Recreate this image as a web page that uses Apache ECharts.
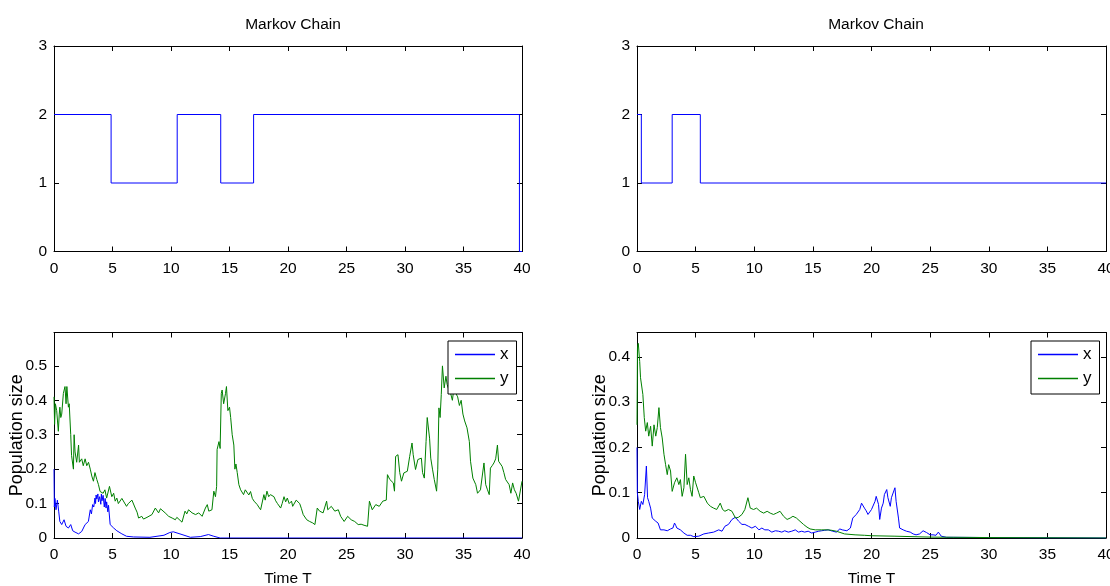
<!DOCTYPE html>
<html>
<head>
<meta charset="utf-8">
<script src="https://cdn.jsdelivr.net/npm/echarts@6/dist/echarts.min.js"></script>
<style>html,body{margin:0;padding:0;background:#fff;}#chart{width:1110px;height:586px;}</style>
</head>
<body>
<div id="chart"></div>
<script>
// ---------- DATA ----------
const xTicks = [0, 5, 10, 15, 20, 25, 30, 35, 40];
const chainTitle = 'Markov Chain';
const yName = 'Population size';
const xName = 'Time T';
const seriesNames = ['x', 'y'];

// Markov chain switching times and states
const chainL_t = [0, 4.88, 10.53, 14.25, 17.06, 39.78, 40];
const chainL_s = [2, 1, 2, 1, 2, 0, 0];
const chainR_t = [0, 0.37, 3.0, 5.4, 40];
const chainR_s = [2, 1, 2, 1, 1];

// Population paths [time, value]
const popL_x = [[0,0.20],[0.03,0.09],[0.08,0.115],[0.17,0.082],[0.29,0.11],[0.4,0.078],[0.5,0.048],[0.66,0.039],[0.86,0.053],[1.03,0.034],[1.23,0.029],[1.43,0.039],[1.6,0.021],[1.8,0.017],[2.1,0.012],[2.37,0.019],[2.66,0.039],[2.8,0.035],[2.94,0.048],[3.1,0.082],[3.2,0.07],[3.3,0.097],[3.4,0.09],[3.5,0.116],[3.55,0.10],[3.6,0.125],[3.66,0.113],[3.75,0.128],[3.8,0.105],[3.9,0.12],[4.0,0.098],[4.05,0.128],[4.1,0.108],[4.2,0.124],[4.3,0.09],[4.37,0.115],[4.45,0.087],[4.5,0.105],[4.6,0.076],[4.66,0.095],[4.8,0.039],[5.1,0.029],[5.37,0.021],[5.8,0.012],[6.2,0.005],[6.8,0.003],[8.2,0.002],[9.4,0.008],[9.9,0.016],[10.2,0.018],[10.37,0.015],[10.94,0.010],[11.66,0.002],[12.5,0.004],[13.2,0.010],[13.66,0.005],[14.2,0],[40,0]];
const popL_y = [[0,0.41],[0.05,0.33],[0.12,0.39],[0.23,0.37],[0.3,0.34],[0.37,0.31],[0.45,0.36],[0.5,0.38],[0.58,0.35],[0.66,0.36],[0.8,0.42],[0.94,0.44],[1.03,0.39],[1.1,0.44],[1.23,0.38],[1.3,0.39],[1.43,0.30],[1.5,0.24],[1.66,0.20],[1.72,0.30],[1.8,0.25],[1.94,0.22],[2.1,0.27],[2.17,0.22],[2.37,0.23],[2.5,0.21],[2.66,0.23],[2.8,0.21],[2.95,0.22],[3.1,0.20],[3.23,0.18],[3.37,0.165],[3.5,0.19],[3.66,0.17],[3.8,0.155],[3.94,0.135],[4.2,0.13],[4.35,0.14],[4.5,0.116],[4.74,0.15],[4.94,0.12],[5.1,0.13],[5.23,0.107],[5.37,0.116],[5.5,0.10],[5.66,0.097],[5.8,0.115],[5.94,0.111],[6.2,0.092],[6.35,0.10],[6.5,0.10],[6.66,0.11],[6.94,0.087],[7.1,0.075],[7.23,0.058],[7.5,0.063],[7.65,0.055],[7.8,0.05],[7.95,0.06],[8.1,0.058],[8.37,0.068],[8.66,0.087],[8.8,0.092],[8.94,0.073],[9.1,0.085],[9.23,0.082],[9.5,0.073],[9.65,0.07],[9.8,0.063],[10.1,0.058],[10.37,0.053],[10.5,0.06],[10.66,0.058],[10.94,0.046],[11.2,0.078],[11.35,0.07],[11.5,0.082],[11.8,0.073],[12.1,0.068],[12.37,0.073],[12.66,0.063],[12.94,0.087],[13.1,0.097],[13.23,0.078],[13.5,0.082],[13.66,0.136],[13.8,0.12],[13.9,0.15],[13.94,0.257],[14.1,0.28],[14.2,0.26],[14.3,0.42],[14.37,0.43],[14.5,0.39],[14.66,0.42],[14.74,0.44],[14.86,0.37],[15.0,0.38],[15.1,0.35],[15.23,0.30],[15.37,0.27],[15.46,0.20],[15.55,0.215],[15.66,0.19],[15.8,0.155],[15.95,0.14],[16.1,0.135],[16.2,0.126],[16.35,0.14],[16.5,0.145],[16.65,0.125],[16.8,0.135],[16.95,0.115],[17.1,0.107],[17.37,0.097],[17.5,0.09],[17.66,0.082],[17.94,0.126],[18.05,0.11],[18.2,0.136],[18.35,0.12],[18.5,0.126],[18.65,0.13],[18.8,0.12],[18.95,0.108],[19.1,0.10],[19.25,0.095],[19.37,0.087],[19.5,0.10],[19.66,0.12],[19.8,0.105],[19.94,0.116],[20.1,0.10],[20.3,0.107],[20.4,0.092],[20.7,0.11],[21.0,0.10],[21.15,0.085],[21.3,0.068],[21.6,0.053],[21.85,0.048],[22.1,0.044],[22.3,0.039],[22.5,0.087],[22.7,0.078],[23.0,0.073],[23.15,0.09],[23.3,0.107],[23.4,0.082],[23.7,0.092],[24.0,0.078],[24.3,0.082],[24.5,0.063],[24.8,0.048],[25.1,0.063],[25.4,0.053],[25.7,0.048],[26.0,0.039],[26.25,0.04],[26.5,0.037],[26.8,0.034],[26.96,0.107],[27.2,0.082],[27.5,0.097],[27.8,0.092],[28.1,0.107],[28.4,0.11],[28.5,0.184],[28.7,0.17],[29.0,0.16],[29.1,0.136],[29.2,0.237],[29.4,0.242],[29.55,0.19],[29.7,0.165],[29.9,0.189],[30.2,0.194],[30.4,0.237],[30.6,0.276],[30.7,0.242],[30.9,0.199],[31.1,0.228],[31.4,0.232],[31.5,0.19],[31.65,0.174],[31.8,0.28],[31.9,0.35],[32.1,0.29],[32.2,0.232],[32.35,0.2],[32.5,0.17],[32.7,0.136],[32.8,0.2],[32.9,0.378],[33.0,0.35],[33.1,0.417],[33.2,0.50],[33.35,0.436],[33.5,0.47],[33.6,0.446],[33.75,0.43],[33.9,0.42],[34.05,0.40],[34.2,0.44],[34.35,0.42],[34.5,0.41],[34.65,0.385],[34.8,0.40],[34.95,0.36],[35.1,0.34],[35.3,0.32],[35.5,0.28],[35.6,0.223],[35.8,0.174],[36.05,0.155],[36.2,0.13],[36.3,0.13],[36.45,0.14],[36.6,0.136],[36.75,0.218],[36.9,0.155],[37.05,0.14],[37.2,0.126],[37.3,0.203],[37.45,0.21],[37.6,0.218],[37.75,0.23],[37.9,0.27],[38.0,0.223],[38.15,0.22],[38.3,0.208],[38.45,0.19],[38.6,0.17],[38.75,0.165],[38.9,0.155],[39.05,0.13],[39.2,0.16],[39.35,0.14],[39.5,0.13],[39.7,0.107],[39.85,0.11],[40,0.165]];
const popR_x = [[0,0.2],[0.03,0.10],[0.11,0.081],[0.23,0.063],[0.37,0.081],[0.5,0.074],[0.65,0.096],[0.8,0.159],[0.9,0.089],[1.0,0.081],[1.16,0.066],[1.3,0.044],[1.45,0.04],[1.6,0.037],[1.8,0.033],[2.0,0.018],[2.15,0.022],[2.3,0.018],[2.45,0.02],[2.58,0.016],[2.86,0.02],[3.06,0.022],[3.2,0.033],[3.3,0.028],[3.4,0.022],[3.7,0.018],[4.0,0.011],[4.28,0.006],[4.56,0.006],[4.84,0.003],[5.27,0.004],[5.7,0.009],[6.1,0.011],[6.54,0.013],[6.97,0.018],[7.25,0.015],[7.5,0.026],[7.8,0.03],[8.1,0.041],[8.4,0.046],[8.67,0.037],[8.95,0.03],[9.2,0.03],[9.5,0.026],[9.8,0.022],[10.1,0.026],[10.4,0.018],[10.65,0.022],[10.9,0.018],[11.2,0.018],[11.5,0.013],[11.8,0.016],[12.07,0.015],[12.35,0.013],[12.6,0.016],[12.9,0.013],[13.2,0.015],[13.5,0.018],[13.77,0.013],[14.05,0.015],[14.3,0.013],[14.6,0.015],[14.9,0.011],[15.2,0.013],[15.5,0.015],[15.75,0.016],[16.0,0.017],[16.3,0.018],[16.45,0.022],[16.7,0.015],[17.0,0.013],[17.3,0.02],[17.5,0.018],[17.9,0.016],[18.2,0.022],[18.4,0.044],[18.7,0.052],[19.0,0.063],[19.15,0.077],[19.4,0.066],[19.55,0.06],[19.7,0.052],[19.86,0.048],[20.0,0.063],[20.1,0.059],[20.3,0.081],[20.4,0.092],[20.6,0.074],[20.7,0.041],[20.85,0.066],[21.0,0.077],[21.1,0.096],[21.3,0.107],[21.4,0.089],[21.6,0.07],[21.7,0.089],[21.8,0.092],[22.0,0.111],[22.1,0.081],[22.3,0.044],[22.4,0.022],[22.7,0.018],[22.98,0.015],[23.3,0.013],[23.55,0.009],[23.8,0.007],[24.1,0.009],[24.4,0.016],[24.7,0.012],[25.0,0.007],[25.25,0.007],[25.5,0.006],[25.7,0.013],[25.95,0.004],[26.4,0.0015],[27,0.0015],[30,0.001],[33,0.0005],[40,0]];
const popR_y = [[0,0.25],[0.04,0.42],[0.11,0.43],[0.23,0.39],[0.3,0.354],[0.4,0.358],[0.5,0.317],[0.62,0.266],[0.74,0.236],[0.88,0.255],[1.0,0.225],[1.16,0.247],[1.3,0.203],[1.45,0.25],[1.6,0.225],[1.73,0.244],[1.87,0.288],[2.0,0.244],[2.15,0.221],[2.3,0.185],[2.44,0.162],[2.58,0.14],[2.7,0.162],[2.86,0.148],[3.0,0.103],[3.2,0.122],[3.4,0.133],[3.57,0.118],[3.7,0.129],[3.85,0.092],[4.0,0.111],[4.14,0.185],[4.28,0.118],[4.42,0.133],[4.56,0.107],[4.7,0.092],[4.84,0.137],[5.0,0.122],[5.27,0.1],[5.4,0.089],[5.7,0.092],[6.0,0.077],[6.26,0.07],[6.54,0.066],[6.8,0.063],[7.1,0.077],[7.3,0.063],[7.5,0.059],[7.8,0.063],[8.1,0.059],[8.4,0.044],[8.67,0.046],[8.95,0.052],[9.2,0.063],[9.46,0.089],[9.66,0.066],[9.94,0.063],[10.2,0.066],[10.5,0.059],[10.8,0.055],[11.1,0.059],[11.36,0.055],[11.64,0.052],[11.9,0.055],[12.2,0.059],[12.5,0.048],[12.8,0.041],[13.06,0.044],[13.3,0.048],[13.6,0.044],[13.9,0.037],[14.2,0.03],[14.5,0.024],[14.76,0.02],[15.2,0.018],[15.75,0.018],[16.3,0.018],[16.6,0.017],[17.0,0.015],[17.7,0.009],[18.6,0.007],[19.4,0.006],[20,0.005],[22,0.004],[25,0.002],[30,0.001],[35,0.0005],[40,0]];

// ---------- CHART ----------
const FONT = "'Liberation Sans',Arial,Helvetica,sans-serif";
const BLUE = '#0000ff', GREEN = '#008000';
const FS = 15.5;

const grids = [
  {left: 54, top: 46, width: 468, height: 205.5},
  {left: 637, top: 46, width: 469, height: 205.5},
  {left: 54, top: 332.5, width: 468, height: 205.5},
  {left: 637, top: 332.5, width: 469, height: 205.5}
];
const yRanges = [
  {min: 0, max: 3, interval: 1},
  {min: 0, max: 3, interval: 1},
  {min: 0, max: 0.597, interval: 0.1},
  {min: 0, max: 0.454, interval: 0.1}
];

const axisLineStyle = {show: true, onZero: false, lineStyle: {color: '#000', width: 1}};
const tickStyle = {show: true, inside: true, length: 5, lineStyle: {color: '#000', width: 1}};
const labelFmt = v => (v === 0 ? '0' : (Number.isInteger(v) ? String(v) : v.toFixed(1)));

const xAxis = [], yAxis = [];
grids.forEach((g, i) => {
  const isBottom = i >= 2;
  xAxis.push({
    gridIndex: i, type: 'value', position: 'bottom',
    min: xTicks[0], max: xTicks[xTicks.length - 1], interval: xTicks[1] - xTicks[0],
    axisLine: axisLineStyle, axisTick: tickStyle, splitLine: {show: false},
    axisLabel: {color: '#000', fontFamily: FONT, fontSize: FS, margin: 9, formatter: labelFmt},
    name: isBottom ? xName : '', nameLocation: 'middle', nameGap: 33, nameMoveOverlap: false,
    nameTextStyle: {color: '#000', fontFamily: FONT, fontSize: FS}
  });
  xAxis.push({
    gridIndex: i, type: 'value', position: 'top',
    min: xTicks[0], max: xTicks[xTicks.length - 1], interval: xTicks[1] - xTicks[0],
    axisLine: axisLineStyle, axisTick: tickStyle, splitLine: {show: false},
    axisLabel: {show: false}
  });
  const r = yRanges[i];
  yAxis.push({
    gridIndex: i, type: 'value', position: 'left',
    min: r.min, max: r.max, interval: r.interval,
    axisLine: axisLineStyle, axisTick: tickStyle, splitLine: {show: false},
    axisLabel: {color: '#000', fontFamily: FONT, fontSize: FS, margin: 7, formatter: labelFmt, showMaxLabel: !isBottom},
    name: isBottom ? yName : '', nameLocation: 'middle', nameRotate: 90, nameGap: 28, nameMoveOverlap: false,
    nameTextStyle: {color: '#000', fontFamily: FONT, fontSize: 18}
  });
  yAxis.push({
    gridIndex: i, type: 'value', position: 'right',
    min: r.min, max: r.max, interval: r.interval,
    axisLine: axisLineStyle, axisTick: tickStyle, splitLine: {show: false},
    axisLabel: {show: false}
  });
});

function stepData(ts, ss) { return ts.map((t, k) => [t, ss[k]]); }

const lineBase = {type: 'line', symbol: 'none', showSymbol: false, animation: false, silent: true};
const series = [
  Object.assign({}, lineBase, {name: 'chainL', xAxisIndex: 0, yAxisIndex: 0, step: 'end', data: stepData(chainL_t, chainL_s), lineStyle: {color: BLUE, width: 1}, itemStyle: {color: BLUE}}),
  Object.assign({}, lineBase, {name: 'chainR', xAxisIndex: 2, yAxisIndex: 2, step: 'end', data: stepData(chainR_t, chainR_s), lineStyle: {color: BLUE, width: 1}, itemStyle: {color: BLUE}}),
  Object.assign({}, lineBase, {name: seriesNames[0], xAxisIndex: 4, yAxisIndex: 4, data: popL_x, lineStyle: {color: BLUE, width: 1}, itemStyle: {color: BLUE}}),
  Object.assign({}, lineBase, {name: seriesNames[1], xAxisIndex: 4, yAxisIndex: 4, data: popL_y, lineStyle: {color: GREEN, width: 1}, itemStyle: {color: GREEN}}),
  Object.assign({}, lineBase, {name: seriesNames[0], xAxisIndex: 6, yAxisIndex: 6, data: popR_x, lineStyle: {color: BLUE, width: 1}, itemStyle: {color: BLUE}}),
  Object.assign({}, lineBase, {name: seriesNames[1], xAxisIndex: 6, yAxisIndex: 6, data: popR_y, lineStyle: {color: GREEN, width: 1}, itemStyle: {color: GREEN}})
];

const legendBase = {
  data: seriesNames, orient: 'vertical', top: 341, icon: 'rect', itemWidth: 40, itemHeight: 1.5,
  itemGap: 7, padding: [5, 8, 7, 7], borderColor: '#000', borderWidth: 1, backgroundColor: '#fff',
  textStyle: {color: '#000', fontFamily: FONT, fontSize: 17}, selectedMode: false, z: 10
};

const titleBase = {text: chainTitle, top: 12, textAlign: 'center', textStyle: {color: '#000', fontFamily: FONT, fontSize: FS, fontWeight: 'normal'}};

const option = {
  animation: false,
  backgroundColor: '#fff',
  title: [Object.assign({}, titleBase, {left: 288}), Object.assign({}, titleBase, {left: 871})],
  legend: [Object.assign({}, legendBase, {left: 448}), Object.assign({}, legendBase, {left: 1031})],
  grid: grids.map(g => Object.assign({containLabel: false, outerBoundsMode: 'none'}, g)),
  xAxis: xAxis,
  yAxis: yAxis,
  series: series
};

const chart = echarts.init(document.getElementById('chart'), null, {renderer: 'canvas'});
chart.setOption(option);
</script>
</body>
</html>
